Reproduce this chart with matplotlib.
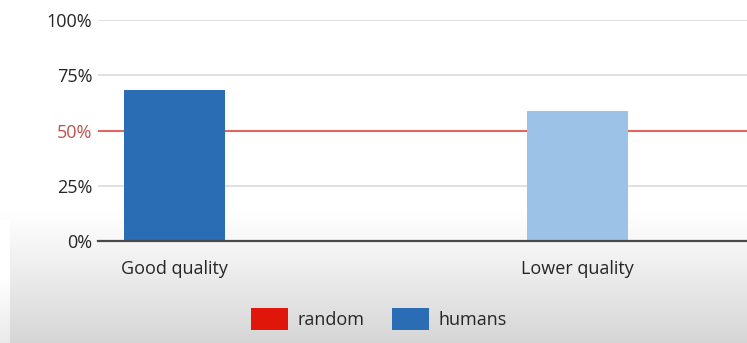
import numpy as np
import matplotlib
matplotlib.use("Agg")
import matplotlib.pyplot as plt
from matplotlib.patches import Patch
from matplotlib.ticker import FuncFormatter

# Data
categories = ["Good quality", "Lower quality"]
human_share = [68.3, 58.8]
random_baseline = 50
y_ticks = [0, 25, 50, 75, 100]
legend_labels = ["random", "humans"]

bar_colors = ["#2a6db5", "#9cc2e7"]
red_line = "#e0675f"
legend_red = "#e0160b"
legend_blue = "#2a6db5"
text_color = "#262626"

plt.rcParams["font.family"] = ["Open Sans", "DejaVu Sans"]
FS = 13

W, H = 747, 343
fig = plt.figure(figsize=(W / 100, H / 100), dpi=100)

# Soft grey wash across the lower part of the canvas
bg = fig.add_axes([0, 0, 1, 1], zorder=-10)
rows = np.arange(H)
start = 210
t = np.clip((rows - start) / (H - start), 0, 1)
shade = 1.0 - 0.165 * t ** 1.1
img = np.repeat(shade[:, None], W, axis=1)
img[start + 10:, :10] = np.minimum(1.0, img[start + 10:, :10] + 0.08)
bg.imshow(np.dstack([img, img, img]), aspect="auto", extent=[0, W, H, 0])
bg.set_axis_off()

left = 98 / W
bottom = 1 - 241 / H
top = 1 - 20 / H
ax = fig.add_axes([left, bottom, 1 - left, top - bottom])
ax.set_facecolor("none")

x = np.arange(len(categories))
ax.axhline(random_baseline, color=red_line, lw=1.5, zorder=1)
ax.bar(x, human_share, width=0.25, color=bar_colors, zorder=2)

ax.set_ylim(0, 100)
ax.set_xlim(-0.19, 1.42)
ax.set_yticks(y_ticks)
ax.yaxis.set_major_formatter(FuncFormatter(lambda v, p: f"{int(v)}%"))
ax.grid(axis="y", color="#d9d9d9", lw=1.1, zorder=0)
ax.set_axisbelow(True)
ax.set_xticks(x)
ax.set_xticklabels(categories)

for s in ["top", "right", "left"]:
    ax.spines[s].set_visible(False)
ax.spines["bottom"].set_color("#4a4a4a")
ax.spines["bottom"].set_linewidth(1.6)
ax.spines["bottom"].set_zorder(3)

ax.tick_params(axis="y", length=0, pad=4, labelsize=FS, labelcolor=text_color)
ax.tick_params(axis="x", length=0, pad=14, labelsize=FS, labelcolor=text_color)
for lbl in ax.get_yticklabels():
    if lbl.get_text() == "50%":
        lbl.set_color("#c0504d")

handles = [Patch(facecolor=legend_red), Patch(facecolor=legend_blue)]
fig.legend(handles, legend_labels, loc="center", bbox_to_anchor=(379 / W, 1 - 319 / H),
           ncol=2, frameon=False, fontsize=FS, handlelength=2.05, handleheight=1.5,
           handletextpad=0.5, columnspacing=1.55, labelcolor=text_color)

fig.savefig("out.png", dpi=100)
